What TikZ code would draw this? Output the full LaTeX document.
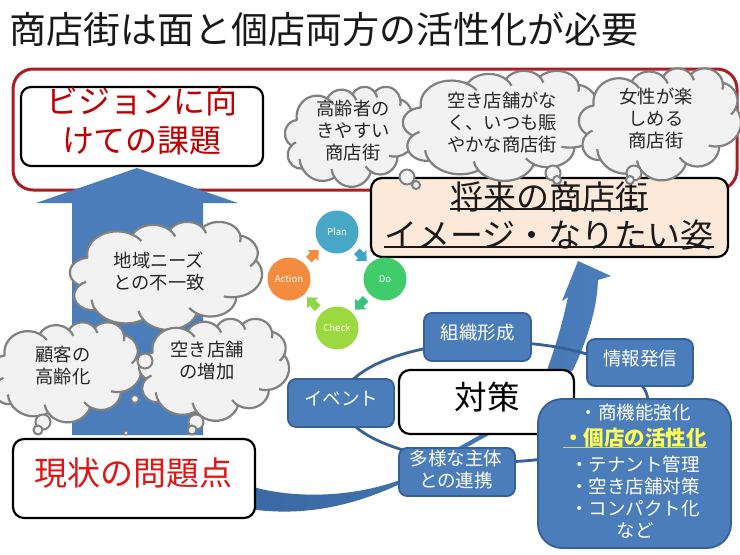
\documentclass[tikz,border=0pt]{standalone}
\usepackage{fontspec}
\setmainfont{Noto Sans CJK JP}
\usetikzlibrary{shapes.geometric,arrows.meta}
\definecolor{rimred}{HTML}{A91D23}
\definecolor{txtred}{HTML}{C00000}
\definecolor{alertred}{HTML}{E01515}
\definecolor{bluefill}{HTML}{4A7DBA}
\definecolor{blueedge}{HTML}{35609A}
\definecolor{swooshdark}{HTML}{3A69A3}
\definecolor{cloudfill}{HTML}{F2F2F2}
\definecolor{cloudedge}{HTML}{808080}
\definecolor{cloudtxt}{HTML}{262626}
\definecolor{peach}{HTML}{FDE9D9}
\definecolor{hiyellow}{HTML}{FFFF55}
\definecolor{hiline}{HTML}{C8DC6C}
\definecolor{planblue}{RGB}{72,167,196}
\definecolor{dogreen}{RGB}{64,204,106}
\definecolor{checkgreen}{RGB}{155,217,62}
\definecolor{actionorange}{RGB}{244,140,64}
\definecolor{arrowblue}{RGB}{60,165,200}
\definecolor{arrowteal}{RGB}{55,195,130}
\definecolor{arrowlime}{RGB}{140,216,75}
\newcommand{\fs}[2]{\fontsize{#1}{#2}\selectfont}
\newcommand{\myul}[3]{\setbox0\hbox{#3}\rlap{\color{#1}\rule[#2]{\wd0}{1.6pt}}\box0}
\tikzset{
  whitebox/.style={draw=black,fill=white,line width=2.2pt,rounded corners=11pt,inner sep=0pt},
  bluebox/.style={draw=blueedge,fill=bluefill,line width=1.8pt,rounded corners=8pt,inner sep=0pt,text=white,font=\fs{18.5}{22},text height=13pt,text depth=8pt},
  cloudtext/.style={text=cloudtxt,align=center,inner sep=0pt,font=\fs{18.3}{22}},
  bubble/.style={circle,draw=cloudedge,fill=cloudfill,line width=2pt,inner sep=0pt},
  pdca/.style={circle,minimum size=43pt,inner sep=0pt,text=white,font=\fs{9.5}{11}},
  pdcaarrow/.style={line width=8pt,-{Triangle[width=15pt,length=8pt]},shorten >=4pt,shorten <=6pt},
}
% PowerPoint style cloud: centre x,y, width, height
\newcommand{\cloudy}[4]{%
  \pgfmathsetmacro{\sxx}{#3/432}\pgfmathsetmacro{\syy}{-#4/432}%
  \begin{scope}[shift={(#1-#3/2,#2-#4/2)},x=\sxx pt,y=\syy pt]
    \draw[draw=cloudedge,fill=cloudfill,line width=2.2pt,line join=round]
      (39,143.7)
      \foreach \a/\b/\c/\d [count=\i,
          evaluate=\c as \tone using {atan2(\a*sin(\c),\b*cos(\c))},
          evaluate=\c as \ttwo using {atan2(\a*sin(\c+\d),\b*cos(\c+\d))},
          evaluate=\c as \dt using {mod(\ttwo-\tone+720,360)}] in
       {67.53/91.90/-190.487/123.781,53.33/72.67/-144.102/89.945,
        43.65/59.45/-145.808/99.723,48.57/65.95/-130.986/117.242,
        53.33/72.73/-78.709/109.027,67.75/92.20/-46.267/130.269,
        57.85/78.67/0.625/114.033,67.52/92.15/22.452/115.173,
        77.20/105.43/66.243/75.711,43.60/59.18/-274.942/146.736,
        43.45/59.45/-246.829/152.519}
       { arc[start angle=\tone,delta angle=\dt,x radius=\a,y radius=\b] coordinate (J\i) } -- cycle;
    \foreach \a/\b/\c/\d [count=\i,
          evaluate=\c as \ttwo using {atan2(\a*sin(\c+\d),\b*cos(\c+\d))}] in
       {67.53/91.90/-190.487/123.781,53.33/72.67/-144.102/89.945,
        43.65/59.45/-145.808/99.723,48.57/65.95/-130.986/117.242,
        53.33/72.73/-78.709/109.027,67.75/92.20/-46.267/130.269,
        57.85/78.67/0.625/114.033,67.52/92.15/22.452/115.173,
        77.20/105.43/66.243/75.711,43.60/59.18/-274.942/146.736}
       { \draw[draw=cloudedge,line width=2.2pt] (J\i) arc[start angle=\ttwo,delta angle=24,x radius=\a,y radius=\b]; }
  \end{scope}}
\begin{document}
\begin{tikzpicture}[x=1pt,y=-1pt]
\useasboundingbox (0,0) rectangle (740,555);
\fill[white] (0,0) rectangle (740,555);
% title
\node[anchor=center,inner sep=0pt,text=black!90,font=\fs{37}{40}] (title) at (324,29) {商店街は面と個店両方の活性化が必要};
% red frame
\node[draw=rimred,line width=3pt,rounded corners=20pt,minimum width=724pt,minimum height=121pt,inner sep=0pt] (frame) at (375,129.5) {};
% vision box
\node[whitebox,rounded corners=10pt,minimum width=242pt,minimum height=79pt] (vision) at (142,126.5) {};
\node[text=txtred,align=center,inner sep=0pt,font=\fs{32}{38.5}] (visiontxt) at (142,121) {ビジョンに向\\けての課題};
% big up arrow
\fill[bluefill] (137,168) -- (238,203) -- (203,203) -- (203,435) -- (72,435) -- (72,203) -- (36,203) -- cycle;
% swoosh
\shade[left color=swooshdark,right color=bluefill] (250,486) .. controls (285,497) and (345,500) .. (400,480)
  -- (480,435) -- (547,370) .. controls (556,345) and (562,325) .. (568,297)
  -- (562,301) -- (578,261) -- (611,276) -- (598,280)
  .. controls (597,310) and (587,340) .. (573,370)
  -- (489,435) -- (400,484) .. controls (340,512) and (290,515) .. (250,509) -- cycle;
% ring
\node[ellipse,draw=blueedge,line width=2.8pt,minimum width=306pt,minimum height=120pt,inner sep=0pt] (ring) at (495,402) {};
% future box
\node[draw=black,fill=peach,line width=2.2pt,rounded corners=11pt,minimum width=357pt,minimum height=79pt,inner sep=0pt] (future) at (549.5,217.5) {};
\node[align=center,inner sep=0pt,text=black!90,font=\fs{33}{38}] (futuretxt) at (549,216) {\myul{black!90}{-0.5pt}{将来の商店街}\\\myul{black!90}{-0.5pt}{イメージ・なりたい姿}};
% clouds top
\cloudy{350}{136.5}{130}{100}
\cloudy{502}{125.5}{198}{110}
\cloudy{660}{124}{162}{112}
\node[bubble,minimum size=15pt] (b1a) at (407,177) {};
\node[bubble,minimum size=8pt] (b1b) at (416,185) {};
\node[bubble,minimum size=15pt] (b2a) at (553,173) {};
\node[bubble,minimum size=8pt] (b2b) at (557,180) {};
\node[bubble,minimum size=15pt] (b3a) at (634,173) {};
\node[bubble,minimum size=8pt] (b3b) at (630,180) {};
\node[cloudtext] (c1t) at (353,131) {高齢者の\\きやすい\\商店街};
\node[cloudtext] (c2t) at (502,122) {空き店舗がな\\く、いつも賑\\やかな商店街};
\node[cloudtext] (c3t) at (656,118) {女性が楽\\しめる\\商店街};
% PDCA
\node[pdca,fill=planblue] (plan) at (337,232) {Plan};
\node[pdca,fill=dogreen] (do) at (385,279) {Do};
\node[pdca,fill=checkgreen] (check) at (337,328) {Check};
\node[pdca,fill=actionorange] (action) at (289,279) {Action};
\draw[pdcaarrow,draw=arrowblue] (plan) -- (do);
\draw[pdcaarrow,draw=arrowteal] (do) -- (check);
\draw[pdcaarrow,draw=arrowlime] (check) -- (action);
\draw[pdcaarrow,draw=actionorange] (action) -- (plan);
% left clouds
\cloudy{166}{275.5}{192}{108}
\cloudy{66}{372}{150}{100}
\cloudy{214}{369.5}{150}{102}
\node[bubble,minimum size=15pt] (b4a) at (145,361) {};
\node[bubble,minimum size=8pt] (b4b) at (135,399) {};
\node[bubble,minimum size=4pt,line width=1.2pt] (b4c) at (126,433) {};
\node[bubble,minimum size=15pt] (b5a) at (43,422) {};
\node[bubble,minimum size=9pt] (b5b) at (38,430) {};
\node[bubble,minimum size=15pt] (b6a) at (196,422) {};
\node[bubble,minimum size=9pt] (b6b) at (192,430) {};
\node[cloudtext] (c4t) at (159,271.5) {地域ニーズ\\との不一致};
\node[cloudtext] (c5t) at (63,366) {顧客の\\高齢化};
\node[cloudtext] (c6t) at (207,361) {空き店舗\\の増加};
% current problems
\node[whitebox,minimum width=242pt,minimum height=79pt] (now) at (134,478.5) {};
\node[text=alertred,inner sep=0pt,font=\fs{33}{38}] (nowtxt) at (133.5,473) {現状の問題点};
% blue boxes
\node[bluebox,minimum width=107pt,minimum height=48pt] (org) at (477.5,337) {組織形成};
\node[bluebox,minimum width=106pt,minimum height=47pt] (info) at (640,362.5) {情報発信};
\node[bluebox,minimum width=106pt,minimum height=48pt] (event) at (341,403) {イベント};
\node[whitebox,minimum width=175pt,minimum height=64pt] (taisaku) at (486.5,402) {};
\node[inner sep=0pt,text=black,font=\fs{32.5}{38}] (taisakutxt) at (487,397) {対策};
\node[bluebox,minimum width=116pt,minimum height=48pt] (multi) at (457,472) {};
\node[inner sep=0pt,text=white,align=center,font=\fs{18.5}{22}] (multitxt) at (456,469) {多様な主体\\との連携};
\node[bluebox,rounded corners=24pt,minimum width=193pt,minimum height=149pt] (shop) at (634.5,473.5) {};
\node[inner sep=0pt,text=white,align=center,font=\fs{18.5}{22}] (shoptxt) at (635,471) {・商機能強化\\[4pt]
  {\fs{20.5}{22}\bfseries\color{hiyellow}\myul{hiline}{-3pt}{・個店の活性化}}\\[4pt]
  ・テナント管理\\・空き店舗対策\\・コンパクト化\\など};
\end{tikzpicture}
\end{document}
